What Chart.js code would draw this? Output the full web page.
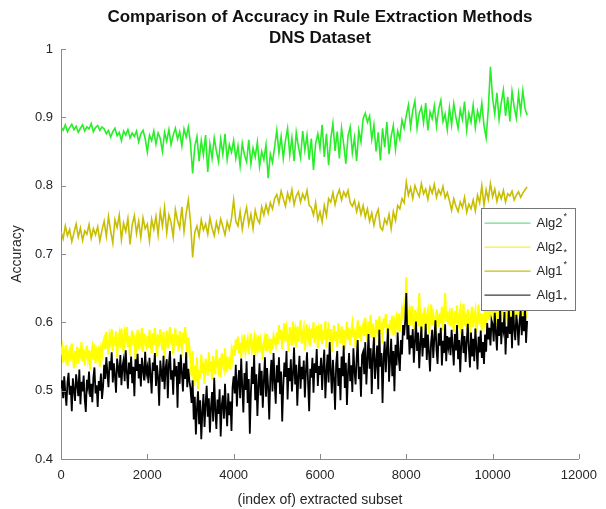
<!DOCTYPE html>
<html>
<head>
<meta charset="utf-8">
<script src="https://cdn.jsdelivr.net/npm/chart.js@4/dist/chart.umd.min.js"></script>
<style>
  html, body { margin: 0; padding: 0; background: #fff; }
  #wrap { width: 606px; height: 509px; }
</style>
</head>
<body>
<div id="wrap"><canvas id="accChart" width="606" height="509"></canvas></div>
<script>
// accuracy per extracted subset; upper-bound curves sampled every 50 subsets,
// lower-bound curves every 25 subsets (0 .. 10800)

const alg2Upper = [
  0.886,0.881,0.889,0.879,0.885,0.890,0.882,0.887,0.878,0.884,0.889,0.880,0.886,0.883,0.891,0.879,0.885,0.888,0.881,0.886,
  0.883,0.876,0.881,0.871,0.879,0.884,0.873,0.878,0.866,0.880,0.874,0.882,0.870,0.877,0.872,0.880,0.864,0.876,0.881,0.869,
  0.849,0.874,0.866,0.880,0.861,0.877,0.869,0.850,0.878,0.865,0.882,0.860,0.874,0.884,0.868,0.879,0.858,0.883,0.871,0.886,
  0.862,0.818,0.858,0.872,0.836,0.866,0.845,0.874,0.820,0.861,0.840,0.870,0.851,0.835,0.868,0.846,0.876,0.838,0.860,0.849,
  0.866,0.840,0.858,0.829,0.862,0.845,0.835,0.867,0.832,0.855,0.842,0.864,0.828,0.850,0.838,0.860,0.811,0.846,0.834,0.857,
  0.881,0.848,0.872,0.840,0.866,0.884,0.845,0.870,0.836,0.878,0.857,0.841,0.880,0.852,0.874,0.838,0.869,0.823,0.862,0.876,
  0.855,0.889,0.842,0.876,0.830,0.868,0.891,0.851,0.879,0.840,0.884,0.861,0.832,0.873,0.886,0.848,0.870,0.836,0.881,0.864,
  0.898,0.906,0.893,0.902,0.868,0.889,0.850,0.878,0.837,0.884,0.856,0.893,0.846,0.872,0.888,0.853,0.880,0.868,0.896,0.884,
  0.903,0.918,0.886,0.910,0.924,0.884,0.906,0.915,0.892,0.921,0.881,0.908,0.898,0.917,0.887,0.912,0.925,0.894,0.905,0.882,
  0.914,0.889,0.920,0.900,0.884,0.911,0.897,0.923,0.881,0.906,0.893,0.918,0.885,0.909,0.896,0.921,0.888,0.870,0.912,0.974,
  0.928,0.905,0.936,0.897,0.921,0.940,0.902,0.930,0.894,0.938,0.915,0.899,0.934,0.908,0.939,0.913,0.903
];

const alg2Lower = [
  0.553,0.562,0.541,0.557,0.548,0.567,0.536,0.555,0.560,0.544,0.569,0.550,0.533,0.558,0.546,0.564,0.539,0.556,0.551,0.571,
  0.543,0.561,0.537,0.552,0.566,0.547,0.559,0.531,0.554,0.563,0.545,0.568,0.540,0.557,0.549,0.565,0.535,0.560,0.552,0.570,
  0.576,0.561,0.586,0.568,0.553,0.581,0.572,0.590,0.558,0.579,0.566,0.587,0.549,0.574,0.583,0.562,0.591,0.570,0.556,0.585,
  0.577,0.593,0.564,0.580,0.551,0.575,0.588,0.567,0.582,0.546,0.573,0.589,0.560,0.578,0.569,0.592,0.557,0.584,0.571,0.565,
  0.580,0.563,0.589,0.571,0.555,0.584,0.567,0.592,0.574,0.550,0.582,0.565,0.590,0.577,0.559,0.586,0.547,0.573,0.588,0.562,
  0.579,0.593,0.568,0.583,0.553,0.576,0.591,0.566,0.581,0.557,0.587,0.572,0.561,0.585,0.569,0.593,0.575,0.548,0.578,0.564,
  0.545,0.521,0.558,0.507,0.536,0.514,0.549,0.502,0.530,0.518,0.553,0.526,0.541,0.510,0.547,0.533,0.522,0.556,0.528,0.543,
  0.516,0.551,0.535,0.524,0.560,0.538,0.529,0.548,0.520,0.555,0.540,0.532,0.562,0.527,0.550,0.537,0.544,0.531,0.557,0.546,
  0.566,0.551,0.575,0.560,0.579,0.555,0.570,0.548,0.573,0.563,0.582,0.557,0.568,0.576,0.553,0.571,0.584,0.559,0.567,0.577,
  0.550,0.572,0.562,0.581,0.556,0.574,0.565,0.546,0.569,0.578,0.558,0.583,0.564,0.571,0.554,0.576,0.561,0.580,0.573,0.566,
  0.585,0.568,0.596,0.574,0.589,0.561,0.582,0.599,0.571,0.590,0.578,0.557,0.593,0.580,0.566,0.601,0.576,0.587,0.563,0.594,
  0.572,0.588,0.603,0.569,0.583,0.592,0.559,0.579,0.597,0.575,0.586,0.565,0.591,0.577,0.600,0.570,0.584,0.595,0.562,0.589,
  0.581,0.597,0.568,0.588,0.575,0.602,0.563,0.585,0.593,0.571,0.590,0.556,0.579,0.596,0.573,0.587,0.564,0.599,0.582,0.570,
  0.594,0.576,0.589,0.560,0.584,0.601,0.574,0.592,0.567,0.586,0.598,0.578,0.591,0.562,0.583,0.603,0.577,0.595,0.572,0.588,
  0.596,0.580,0.607,0.588,0.572,0.601,0.590,0.611,0.577,0.598,0.585,0.566,0.604,0.593,0.579,0.609,0.583,0.600,0.570,0.606,
  0.592,0.612,0.584,0.597,0.575,0.603,0.589,0.610,0.581,0.599,0.587,0.605,0.594,0.613,0.586,0.602,0.619,0.608,0.625,0.612,
  0.666,0.620,0.603,0.615,0.596,0.624,0.607,0.589,0.618,0.600,0.611,0.594,0.643,0.605,0.585,0.614,0.598,0.622,0.590,0.609,
  0.617,0.583,0.604,0.626,0.595,0.612,0.601,0.580,0.619,0.606,0.593,0.613,0.599,0.623,0.588,0.610,0.643,0.602,0.616,0.597,
  0.611,0.594,0.621,0.603,0.586,0.616,0.598,0.625,0.591,0.608,0.618,0.582,0.605,0.627,0.596,0.613,0.589,0.619,0.601,0.580,
  0.610,0.623,0.593,0.607,0.617,0.585,0.604,0.626,0.597,0.614,0.588,0.612,0.600,0.622,0.592,0.609,0.628,0.603,0.620,0.615,
  0.622,0.605,0.634,0.612,0.596,0.629,0.617,0.638,0.603,0.625,0.613,0.640,0.608,0.627,0.599,0.632,0.619,0.610,0.636,0.602,
  0.624,0.615,0.639,0.607,0.630,0.618,0.595,0.626,0.611,0.635,0.620,0.606,0.628
];

const alg1Upper = [
  0.733,0.722,0.741,0.727,0.736,0.718,0.731,0.744,0.725,0.738,0.720,0.734,0.729,0.743,0.723,0.737,0.728,0.740,0.719,0.735,
  0.748,0.726,0.755,0.734,0.716,0.750,0.739,0.757,0.721,0.745,0.733,0.752,0.714,0.743,0.756,0.730,0.748,0.724,0.753,0.737,
  0.744,0.719,0.751,0.736,0.755,0.728,0.762,0.741,0.768,0.731,0.757,0.746,0.725,0.765,0.749,0.738,0.769,0.733,0.760,0.779,
  0.748,0.695,0.732,0.741,0.726,0.750,0.735,0.744,0.729,0.753,0.738,0.727,0.746,0.733,0.751,0.740,0.728,0.747,0.736,0.752,
  0.779,0.748,0.741,0.762,0.736,0.755,0.768,0.743,0.758,0.737,0.764,0.751,0.745,0.769,0.757,0.772,0.760,0.775,0.766,0.781,
  0.787,0.774,0.792,0.781,0.770,0.789,0.778,0.794,0.772,0.785,0.791,0.776,0.788,0.780,0.793,0.771,0.768,0.757,0.775,0.750,
  0.762,0.747,0.771,0.756,0.781,0.776,0.790,0.772,0.786,0.794,0.779,0.791,0.784,0.793,0.775,0.770,0.778,0.762,0.774,0.758,
  0.771,0.754,0.766,0.748,0.760,0.742,0.757,0.765,0.739,0.735,0.751,0.744,0.758,0.737,0.762,0.749,0.771,0.766,0.781,0.775,
  0.805,0.786,0.797,0.781,0.800,0.791,0.784,0.803,0.788,0.795,0.780,0.798,0.789,0.802,0.783,0.794,0.787,0.799,0.782,0.790,
  0.778,0.764,0.781,0.770,0.762,0.776,0.768,0.783,0.761,0.773,0.766,0.779,0.763,0.786,0.775,0.800,0.771,0.794,0.780,0.803,
  0.784,0.795,0.777,0.790,0.781,0.793,0.776,0.788,0.785,0.792,0.779,0.786,0.791,0.783,0.789,0.794,0.798
];

const alg1Lower = [
  0.503,0.515,0.489,0.521,0.497,0.478,0.512,0.526,0.494,0.507,0.470,0.518,0.501,0.485,0.524,0.509,0.492,0.531,0.480,0.513,
  0.499,0.522,0.487,0.469,0.516,0.505,0.528,0.491,0.510,0.483,0.519,0.534,0.496,0.508,0.476,0.514,0.500,0.525,0.488,0.506,
  0.538,0.517,0.549,0.526,0.505,0.543,0.530,0.556,0.512,0.540,0.522,0.497,0.547,0.533,0.519,0.552,0.508,0.536,0.545,0.514,
  0.559,0.528,0.503,0.541,0.524,0.550,0.511,0.535,0.492,0.546,0.529,0.554,0.518,0.539,0.506,0.548,0.531,0.515,0.557,0.525,
  0.534,0.511,0.548,0.523,0.496,0.541,0.529,0.555,0.507,0.537,0.519,0.478,0.544,0.526,0.513,0.551,0.502,0.533,0.546,0.489,
  0.539,0.558,0.516,0.530,0.494,0.547,0.521,0.536,0.475,0.542,0.510,0.553,0.527,0.499,0.540,0.517,0.556,0.505,0.532,0.514,
  0.503,0.482,0.515,0.458,0.491,0.436,0.474,0.499,0.451,0.486,0.429,0.468,0.495,0.447,0.480,0.507,0.462,0.489,0.439,0.476,
  0.498,0.455,0.519,0.471,0.444,0.487,0.466,0.502,0.433,0.479,0.493,0.459,0.510,0.473,0.448,0.496,0.464,0.484,0.441,0.505,
  0.521,0.496,0.538,0.477,0.512,0.530,0.489,0.547,0.505,0.468,0.526,0.501,0.543,0.482,0.517,0.437,0.498,0.535,0.510,0.552,
  0.486,0.524,0.463,0.507,0.540,0.493,0.529,0.475,0.515,0.549,0.491,0.533,0.504,0.458,0.520,0.545,0.499,0.555,0.513,0.481,
  0.537,0.512,0.549,0.495,0.528,0.455,0.506,0.541,0.520,0.558,0.487,0.533,0.514,0.546,0.499,0.525,0.563,0.509,0.538,0.478,
  0.522,0.551,0.503,0.535,0.517,0.544,0.490,0.529,0.556,0.511,0.470,0.532,0.519,0.548,0.497,0.540,0.526,0.561,0.507,0.536,
  0.523,0.548,0.501,0.536,0.560,0.489,0.527,0.553,0.512,0.571,0.530,0.496,0.545,0.518,0.472,0.539,0.558,0.507,0.533,0.486,
  0.550,0.521,0.566,0.504,0.541,0.479,0.526,0.555,0.514,0.537,0.498,0.562,0.529,0.509,0.547,0.574,0.517,0.535,0.491,0.552,
  0.557,0.524,0.571,0.509,0.546,0.583,0.532,0.562,0.495,0.551,0.578,0.517,0.540,0.566,0.502,0.589,0.535,0.555,0.482,0.548,
  0.572,0.527,0.560,0.591,0.513,0.544,0.576,0.521,0.558,0.499,0.567,0.537,0.585,0.549,0.529,0.574,0.553,0.596,0.581,0.602,
  0.643,0.575,0.596,0.553,0.581,0.562,0.590,0.541,0.572,0.601,0.558,0.585,0.533,0.569,0.594,0.550,0.577,0.563,0.598,0.545,
  0.582,0.557,0.528,0.571,0.589,0.548,0.576,0.603,0.560,0.539,0.584,0.566,0.592,0.537,0.573,0.555,0.597,0.543,0.580,0.564,
  0.578,0.552,0.589,0.565,0.537,0.583,0.559,0.596,0.546,0.574,0.527,0.569,0.590,0.555,0.580,0.542,0.572,0.598,0.561,0.534,
  0.585,0.550,0.576,0.543,0.591,0.563,0.531,0.579,0.556,0.588,0.548,0.571,0.539,0.582,0.557,0.599,0.575,0.592,0.566,0.603,
  0.597,0.572,0.614,0.586,0.559,0.605,0.580,0.622,0.568,0.600,0.589,0.615,0.553,0.594,0.577,0.619,0.583,0.608,0.562,0.626,
  0.591,0.574,0.611,0.596,0.566,0.603,0.617,0.581,0.609,0.587,0.624,0.570,0.602
];

const xTicks = [0, 2000, 4000, 6000, 8000, 10000, 12000];
const yTicks = [0.4, 0.5, 0.6, 0.7, 0.8, 0.9, 1];
const titleLines = ['Comparison of Accuracy in Rule Extraction Methods', 'DNS Dataset'];

const toPoints = (arr, step) => arr.map((v, i) => ({ x: i * step, y: v }));

const series = [
  { label: 'Alg2', mark: 'sup', step: 50, color: 'rgb(40,238,40)', legendColor: 'rgb(110,220,140)', width: 1.6, data: alg2Upper, order: 3 },
  { label: 'Alg2', mark: 'sub', step: 25, color: 'rgb(255,255,0)', legendColor: 'rgb(240,240,60)', width: 2.1, data: alg2Lower, order: 2 },
  { label: 'Alg1', mark: 'sup', step: 50, color: 'rgb(200,190,0)', legendColor: 'rgb(195,190,20)', width: 1.6, data: alg1Upper, order: 1 },
  { label: 'Alg1', mark: 'sub', step: 25, color: 'rgb(0,0,0)', legendColor: 'rgb(60,60,60)', width: 1.8, data: alg1Lower, order: 0 }
];

const axisGray = '#8a8a8a';
const textGray = '#262626';
const fontFamily = '"Liberation Sans", Arial, sans-serif';

// inward tick marks, matlab style, plus the title centred over the axes
const axesDecor = {
  id: 'axesDecor',
  afterDraw(chart) {
    const { ctx, chartArea, scales } = chart;
    ctx.save();
    ctx.strokeStyle = axisGray;
    ctx.lineWidth = 1;
    ctx.beginPath();
    xTicks.forEach(t => {
      const px = Math.round(scales.x.getPixelForValue(t)) + 0.5;
      ctx.moveTo(px, chartArea.bottom);
      ctx.lineTo(px, chartArea.bottom - 5);
    });
    yTicks.forEach(t => {
      const py = Math.round(scales.y.getPixelForValue(t)) + 0.5;
      ctx.moveTo(chartArea.left, py);
      ctx.lineTo(chartArea.left + 5, py);
    });
    ctx.stroke();

    const cx = (chartArea.left + chartArea.right) / 2;
    ctx.fillStyle = '#111';
    ctx.font = 'bold 17px ' + fontFamily;
    ctx.textAlign = 'center';
    ctx.textBaseline = 'middle';
    ctx.fillText(titleLines[0], cx, 17);
    ctx.fillText(titleLines[1], cx, 38);
    ctx.restore();
  }
};

// boxed legend sitting inside the axes
const boxLegend = {
  id: 'boxLegend',
  afterDatasetsDraw(chart) {
    const { ctx, scales } = chart;
    const left = scales.x.getPixelForValue(9720);
    const right = scales.x.getPixelForValue(11900);
    const top = scales.y.getPixelForValue(0.767);
    const bottom = scales.y.getPixelForValue(0.618);
    ctx.save();
    ctx.fillStyle = '#fff';
    ctx.fillRect(left, top, right - left, bottom - top);
    ctx.strokeStyle = '#777';
    ctx.lineWidth = 1;
    ctx.strokeRect(Math.round(left) + 0.5, Math.round(top) + 0.5, Math.round(right - left), Math.round(bottom - top));
    const rows = [top + 15, top + 39, top + 63, top + 87];
    series.forEach((s, i) => {
      const y = rows[i];
      ctx.strokeStyle = s.legendColor;
      ctx.lineWidth = 1.3;
      ctx.beginPath();
      ctx.moveTo(left + 4, y);
      ctx.lineTo(left + 50, y);
      ctx.stroke();
      ctx.fillStyle = textGray;
      ctx.font = '13px ' + fontFamily;
      ctx.textBaseline = 'middle';
      ctx.textAlign = 'left';
      const tx = left + 56;
      ctx.fillText(s.label, tx, y);
      const w = ctx.measureText(s.label).width;
      ctx.font = '9px ' + fontFamily;
      ctx.fillText('*', tx + w + 1, s.mark === 'sup' ? y - 7 : y + 5);
    });
    ctx.restore();
  }
};

new Chart(document.getElementById('accChart'), {
  type: 'line',
  data: {
    datasets: series.map(s => ({
      label: s.label,
      data: toPoints(s.data, s.step),
      borderColor: s.color,
      borderWidth: s.width,
      pointRadius: 0,
      tension: 0,
      order: s.order
    }))
  },
  options: {
    responsive: false,
    animation: false,
    events: [],
    layout: { padding: { left: 0, right: 26, top: 49, bottom: 0 } },
    plugins: {
      legend: { display: false },
      tooltip: { enabled: false },
      title: { display: false }
    },
    scales: {
      x: {
        type: 'linear',
        min: 0,
        max: 12000,
        afterBuildTicks: s => { s.ticks = xTicks.map(v => ({ value: v })); },
        afterFit: s => { s.height = 50; },
        grid: { display: false, drawTicks: false },
        border: { display: true, color: axisGray, width: 1 },
        ticks: {
          color: textGray,
          padding: 9,
          maxRotation: 0,
          font: { family: fontFamily, size: 13 },
          callback: v => String(v)
        },
        title: {
          display: true,
          text: '(index of) extracted subset',
          color: textGray,
          padding: { top: 0, bottom: 0 },
          font: { family: fontFamily, size: 14 }
        }
      },
      y: {
        min: 0.4,
        max: 1,
        afterBuildTicks: s => { s.ticks = yTicks.map(v => ({ value: v })); },
        afterFit: s => { s.width = 61; },
        grid: { display: false, drawTicks: false },
        border: { display: true, color: axisGray, width: 1 },
        ticks: {
          color: textGray,
          padding: 8,
          font: { family: fontFamily, size: 13 },
          callback: v => String(+v.toFixed(1))
        },
        title: {
          display: true,
          text: 'Accuracy',
          color: textGray,
          padding: { top: 9, bottom: 0 },
          font: { family: fontFamily, size: 14 }
        }
      }
    }
  },
  plugins: [axesDecor, boxLegend]
});
</script>
</body>
</html>
